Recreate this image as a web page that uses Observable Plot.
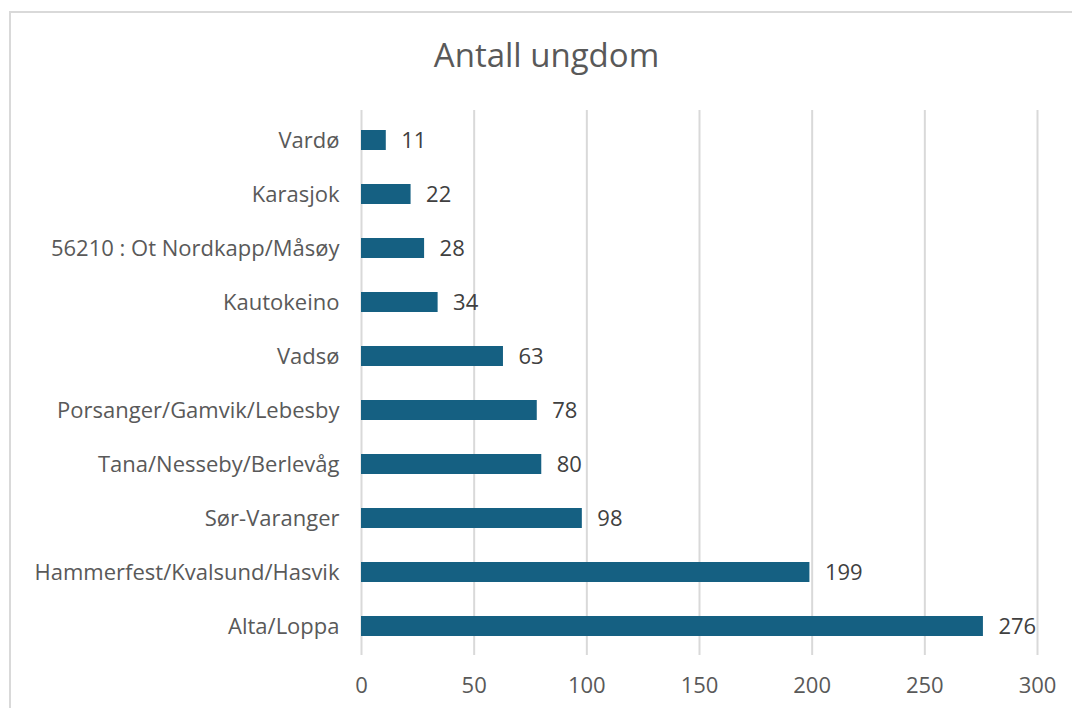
<!DOCTYPE html>
<html><head><meta charset="utf-8">
<script src="https://cdn.jsdelivr.net/npm/d3@7"></script>
<script src="https://cdn.jsdelivr.net/npm/@observablehq/plot@0.6"></script>
<style>
body{margin:0;background:#fff;font-family:"Open Sans",sans-serif;}
#wrap{position:relative;width:1072px;height:708px;overflow:hidden;}
#frame{position:absolute;left:9px;top:11px;width:1100px;height:720px;border:2px solid #d9d9d9;box-sizing:border-box;}
#title{position:absolute;left:0;width:1093px;top:35px;text-align:center;font-size:33px;color:#595959;line-height:1.2;}
#chart{position:absolute;left:0;top:0;}
</style></head>
<body><div id="wrap"><div id="frame"></div><div id="title">Antall ungdom</div><div id="chart"></div></div>
<script>
const categories = ["Vardø","Karasjok","56210 : Ot Nordkapp/Måsøy","Kautokeino","Vadsø","Porsanger/Gamvik/Lebesby","Tana/Nesseby/Berlevåg","Sør-Varanger","Hammerfest/Kvalsund/Hasvik","Alta/Loppa"];
const values = [11,22,28,34,63,78,80,98,199,276];
const xTicks = [0,50,100,150,200,250,300];
const data = categories.map((c,i)=>({name:c,value:values[i]}));
const plot = Plot.plot({
  width:1072, height:708,
  marginLeft:361, marginRight:35, marginTop:110, marginBottom:53,
  style:{fontFamily:"'Open Sans',sans-serif", fontSize:"22px", color:"#595959", background:"transparent"},
  x:{domain:[0,300], ticks:xTicks, label:null},
  y:{domain:categories, label:null, paddingInner:0.633, paddingOuter:0.32},
  marks:[
    Plot.gridX(xTicks,{stroke:"#d9d9d9", strokeOpacity:1, strokeWidth:2}),
    Plot.barX(data,{x:"value", y:"name", fill:"#156082"}),
    Plot.text(data,{x:"value", y:"name", text:d=>String(d.value), textAnchor:"start", dx:15, fill:"#404040", fontSize:22}),
    Plot.axisX(xTicks,{tickSize:0, tickPadding:22, fontSize:22, fill:"#595959", label:null}),
    Plot.axisY({tickSize:0, tickPadding:22, fontSize:22, fill:"#595959", label:null})
  ]
});
document.getElementById("chart").appendChild(plot);
</script></body></html>
